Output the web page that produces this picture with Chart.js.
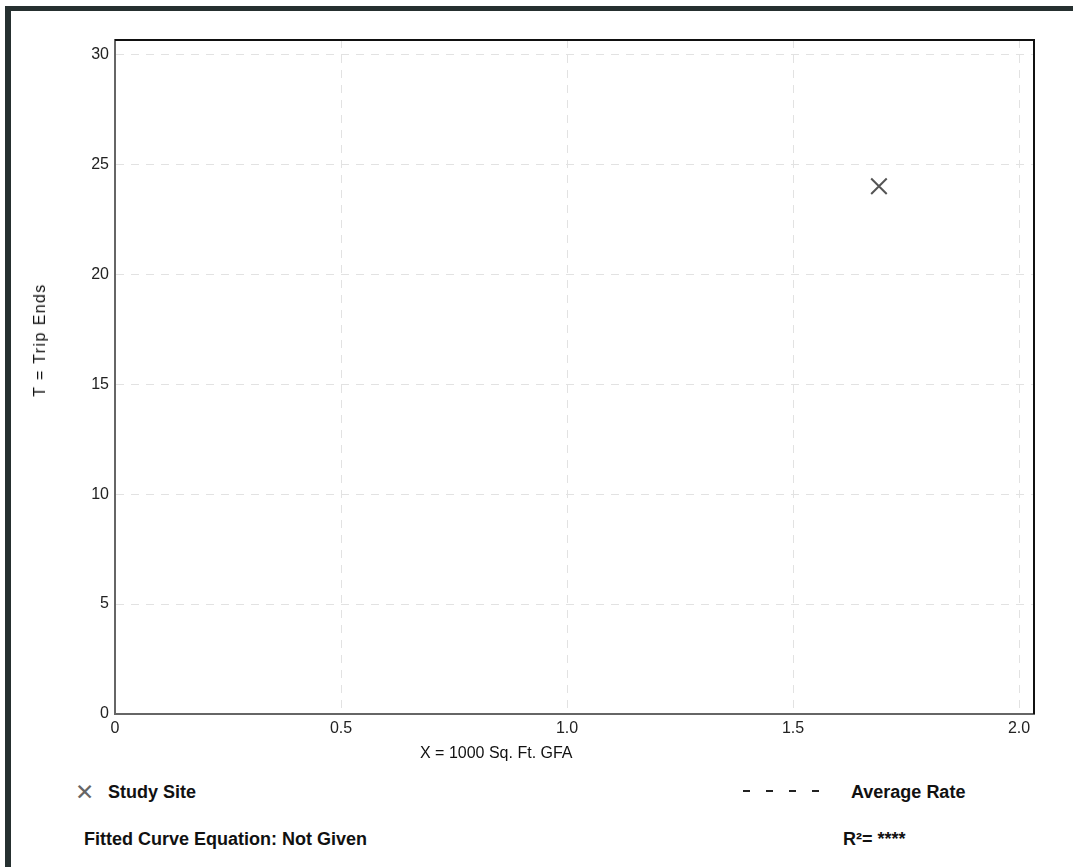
<!DOCTYPE html>
<html>
<head>
<meta charset="utf-8">
<script src="https://cdn.jsdelivr.net/npm/chart.js@4.4.1/dist/chart.umd.min.js"></script>
<style>
  html, body { margin: 0; padding: 0; background: #fff; }
  body { width: 1073px; height: 867px; position: relative; overflow: hidden;
         font-family: "Liberation Sans", Arial, Helvetica, sans-serif; color: #111; }
  #frame { position: absolute; left: 5px; top: 6px; right: 0; bottom: 0;
           border-top: 5px solid #263030; border-left: 6px solid #263030; }
  #wrap { position: absolute; left: 0; top: 0; width: 1073px; height: 760px; }
  .lbl { position: absolute; white-space: nowrap; }
  .b { font-weight: bold; font-size: 18px; }
  #avgDash { position: absolute; left: 743px; top: 790px; width: 77px; height: 2px;
             background: repeating-linear-gradient(to right, #222 0 7px, transparent 7px 23px); }
</style>
</head>
<body>
<div id="frame"></div>
<div id="wrap"><canvas id="tripchart"></canvas></div>

<div class="lbl" style="left:420px; top:744px; font-size:16px;">X = 1000 Sq. Ft. GFA</div>
<div class="lbl" style="left:40px; top:340px; font-size:16px; letter-spacing:1.4px; transform: translate(-50%,-50%) rotate(-90deg);">T = Trip Ends</div>

<div class="lbl" style="left:75px; top:779px; font-size:23px; font-weight:300; color:#666;">&#x2715;</div>
<div class="lbl b" style="left:108px; top:782px;">Study Site</div>
<div id="avgDash"></div>
<div class="lbl b" style="left:851px; top:782px;">Average Rate</div>
<div class="lbl b" style="left:84px; top:829px;">Fitted Curve Equation: Not Given</div>
<div class="lbl b" style="left:843px; top:829px;">R²= ****</div>

<script>
// study site data
const siteX = [1.69];
const siteY = [24];
const xTicks = [0, 0.5, 1.0, 1.5, 2.0];
const yTicks = [0, 5, 10, 15, 20, 25, 30];

const points = siteX.map((x, i) => ({ x: x, y: siteY[i] }));

// black line on top and right side of the plot box
const boxLines = {
    id: 'boxLines',
    afterDraw(chart) {
        const a = chart.chartArea;
        const ctx = chart.ctx;
        ctx.save();
        ctx.strokeStyle = '#111';
        ctx.lineWidth = 2;
        ctx.beginPath();
        ctx.moveTo(a.left, a.top);
        ctx.lineTo(a.right, a.top);
        ctx.lineTo(a.right, a.bottom);
        ctx.stroke();
        ctx.restore();
    }
};

const tripChart = new Chart(
    document.getElementById('tripchart'),
    {
        type: 'scatter',
        data: {
            datasets: [{
                label: 'Study Site',
                data: points,
                pointStyle: 'crossRot',
                pointRadius: 11,
                pointBorderWidth: 2,
                borderColor: '#555',
                backgroundColor: '#555',
            }]
        },
        options: {
            responsive: true,
            maintainAspectRatio: false,
            animation: false,
            layout: {
                padding: { left: 65, top: 40, right: 39, bottom: 6 }
            },
            plugins: {
                legend: { display: false },
                tooltip: { enabled: false },
            },
            scales: {
                x: {
                    type: 'linear',
                    min: 0,
                    max: 2.033,
                    afterBuildTicks: (s) => { s.ticks = xTicks.map(v => ({ value: v })); },
                    afterFit: (s) => { s.height = 40; },
                    ticks: {
                        padding: 5,
                        color: '#222',
                        font: { family: 'Liberation Sans', size: 16 },
                        callback: (v) => v === 0 ? '0' : v.toFixed(1),
                    },
                    grid: {
                        color: '#e2e2e2',
                        drawTicks: false,
                    },
                    // v4: border.dash sets the grid line dashes
                    border: { color: '#666', width: 2, dash: [8, 7] },
                },
                y: {
                    min: 0,
                    max: 30.65,
                    afterBuildTicks: (s) => { s.ticks = yTicks.map(v => ({ value: v })); },
                    afterFit: (s) => { s.width = 50; },
                    ticks: {
                        padding: 6,
                        color: '#222',
                        font: { family: 'Liberation Sans', size: 16 },
                    },
                    grid: {
                        color: '#e2e2e2',
                        drawTicks: false,
                    },
                    border: { color: '#666', width: 2, dash: [8, 7] },
                }
            }
        },
        plugins: [boxLines]
    }
);
</script>
</body>
</html>
